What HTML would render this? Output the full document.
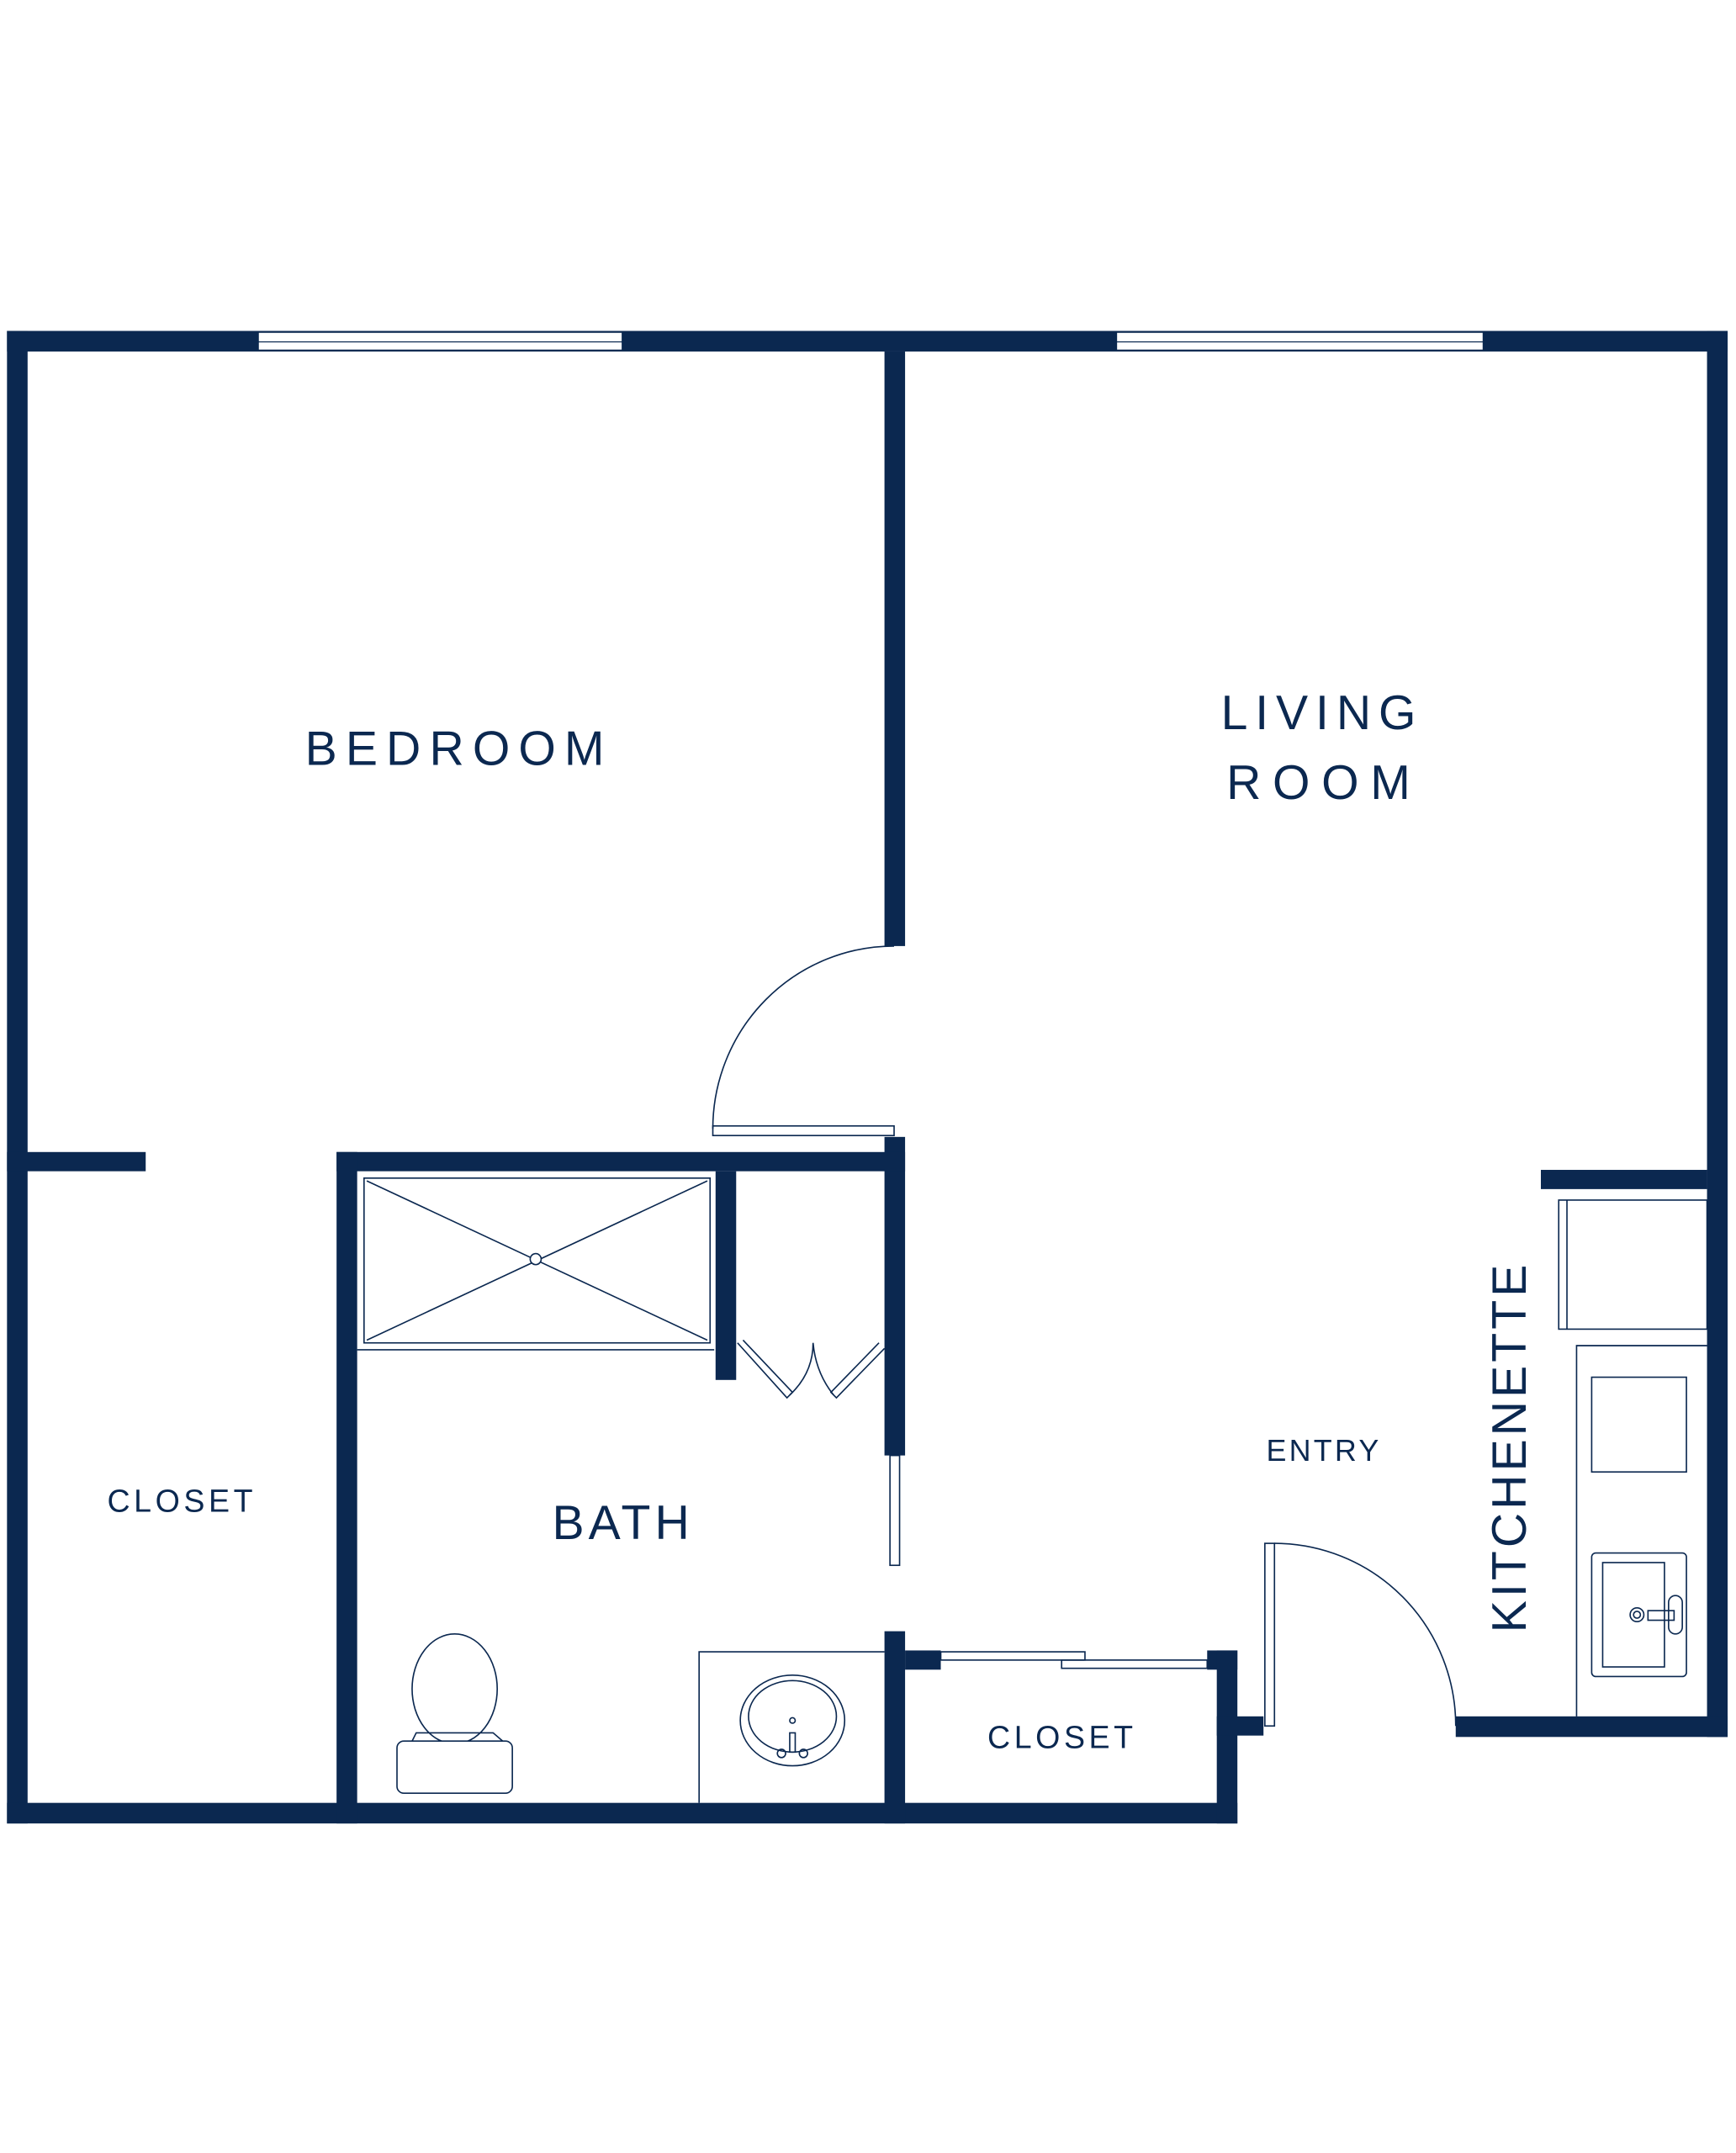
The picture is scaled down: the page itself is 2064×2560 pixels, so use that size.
<!DOCTYPE html>
<html><head><style>html,body{margin:0;padding:0;background:#fff}svg{display:block}</style></head>
<body>
<svg width="2064" height="2560" viewBox="0 0 1264 1568" xmlns="http://www.w3.org/2000/svg">
<g fill="#0b2850">
<rect x="5" y="241" width="1253" height="15"/>
<rect x="5" y="241" width="15" height="1087"/>
<rect x="1243" y="241" width="15" height="1024"/>
<rect x="5" y="1313" width="896" height="15"/>
<rect x="644" y="256" width="15" height="433"/>
<rect x="644" y="828" width="15" height="232"/>
<rect x="644" y="1188" width="15" height="140"/>
<rect x="5" y="839" width="101" height="14"/>
<rect x="245" y="839" width="414" height="14"/>
<rect x="245" y="839" width="15" height="489"/>
<rect x="521" y="853" width="15" height="152"/>
<rect x="659" y="1202" width="26" height="14"/>
<rect x="879" y="1202" width="22" height="14"/>
<rect x="886" y="1202" width="15" height="126"/>
<rect x="886" y="1250" width="34" height="14"/>
<rect x="1060" y="1250" width="198" height="15"/>
<rect x="1122" y="852" width="121" height="14"/>
</g>
<g fill="#fff" stroke="#0b2850" stroke-width="0.8">
<rect x="188" y="242" width="265" height="13"/>
<line x1="188" y1="249" x2="453" y2="249"/>
<rect x="813" y="242" width="267" height="13"/>
<line x1="813" y1="249" x2="1080" y2="249"/>
</g>
<g fill="none" stroke="#0b2850" stroke-width="1">
<path d="M651 689 A132 133 0 0 0 519 822"/>
<rect x="519" y="820" width="132" height="7"/>
<rect x="648" y="1060" width="7" height="80"/>
<rect x="265" y="858" width="252" height="120"/>
<line x1="267" y1="860" x2="515" y2="976"/>
<line x1="515" y1="860" x2="267" y2="976"/>
<circle cx="390" cy="917" r="4" fill="#fff"/>
<line x1="260" y1="983" x2="520" y2="983"/>
<path d="M537 978 L573 1018 L577 1014 L541 976"/>
<path d="M644 982 L609 1018 L605 1014 L640 978"/>
<path d="M575 1016 Q592 1000 592 978 Q594 1000 607 1016"/>
<ellipse cx="331" cy="1230" rx="31" ry="40" fill="#fff"/>
<path d="M300 1268 L303 1262 H359 L366 1268"/>
<rect x="289" y="1268" width="84" height="38" rx="5" fill="#fff"/>
<path d="M509 1313 V1203 H644"/>
<ellipse cx="577" cy="1253" rx="38" ry="33"/>
<ellipse cx="577" cy="1250" rx="32" ry="26"/>
<circle cx="577" cy="1253" r="2"/>
<path d="M575 1262 V1276 H579 V1262 Z"/>
<circle cx="569" cy="1277" r="3"/><circle cx="585" cy="1277" r="3"/>
<rect x="685" y="1203" width="105" height="6"/>
<rect x="773" y="1209" width="106" height="6"/>
<rect x="921" y="1124" width="7" height="133"/>
<path d="M928 1124 A132 133 0 0 1 1060 1257"/>
<rect x="1135" y="874" width="108" height="94"/>
<line x1="1141" y1="874" x2="1141" y2="968"/>
<path d="M1148 1250 V980 H1243"/>
<rect x="1159" y="1003" width="69" height="69"/>
<rect x="1159" y="1131" width="69" height="90" rx="3"/>
<rect x="1167" y="1138" width="45" height="76"/>
<circle cx="1192" cy="1176" r="5"/><circle cx="1192" cy="1176" r="2.5"/>
<rect x="1200" y="1173" width="19" height="7"/>
<rect x="1215" y="1162" width="10" height="28" rx="5"/>
</g>
<g fill="#0b2850" font-family="'Liberation Sans', sans-serif" text-anchor="middle">
<text x="331" y="557" font-size="35" textLength="218" lengthAdjust="spacing">BEDROOM</text>
<text x="960" y="531" font-size="35" textLength="142" lengthAdjust="spacing">LIVING</text>
<text x="960" y="582" font-size="35" textLength="134" lengthAdjust="spacing">ROOM</text>
<text x="131" y="1101" font-size="23" textLength="106" lengthAdjust="spacing">CLOSET</text>
<text x="452" y="1121" font-size="35" textLength="100" lengthAdjust="spacing">BATH</text>
<text x="963" y="1064" font-size="22" textLength="82" lengthAdjust="spacing">ENTRY</text>
<text x="772" y="1273" font-size="23" textLength="106" lengthAdjust="spacing">CLOSET</text>
<text x="0" y="0" font-size="35" textLength="268" lengthAdjust="spacing" transform="translate(1111 1055) rotate(-90)">KITCHENETTE</text>
</g>
</svg>
</body></html>
